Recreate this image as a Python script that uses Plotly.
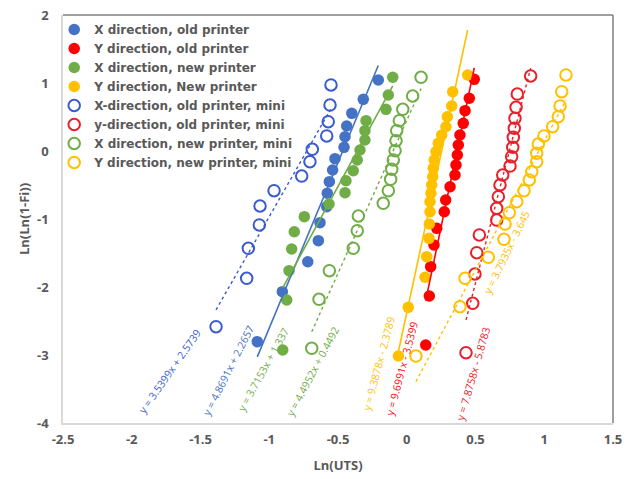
import plotly.graph_objects as go

# ---------------- data ----------------
x_old_x = [-0.207, -0.316, -0.400, -0.437, -0.449, -0.456, -0.522, -0.539, -0.563, -0.578, -0.582, -0.631, -0.643, -0.720, -0.905, -1.087]
y_old_x = [1.044, 0.760, 0.554, 0.368, 0.210, 0.054, -0.113, -0.279, -0.451, -0.622, -0.819, -1.054, -1.319, -1.628, -2.069, -2.804]

x_old_y = [0.491, 0.455, 0.424, 0.411, 0.387, 0.375, 0.368, 0.358, 0.351, 0.315, 0.283, 0.273, 0.218, 0.198, 0.174, 0.164, 0.138]
y_old_y = [1.054, 0.775, 0.593, 0.407, 0.235, 0.088, -0.059, -0.206, -0.353, -0.525, -0.721, -0.893, -1.137, -1.382, -1.701, -2.132, -2.853]

x_new_x = [-0.102, -0.134, -0.151, -0.296, -0.304, -0.304, -0.340, -0.360, -0.389, -0.442, -0.449, -0.565, -0.745, -0.818, -0.837, -0.856, -0.873, -0.902]
y_new_x = [1.084, 0.824, 0.613, 0.446, 0.299, 0.162, 0.015, -0.132, -0.290, -0.437, -0.613, -0.779, -0.966, -1.187, -1.441, -1.760, -2.191, -2.926]

x_new_y = [0.443, 0.334, 0.327, 0.295, 0.285, 0.254, 0.229, 0.213, 0.200, 0.193, 0.189, 0.181, 0.176, 0.169, 0.169, 0.164, 0.162, 0.145, 0.133, 0.011, -0.061]
y_new_y = [1.118, 0.872, 0.662, 0.504, 0.357, 0.235, 0.113, -0.010, -0.132, -0.254, -0.378, -0.500, -0.622, -0.746, -0.893, -1.074, -1.284, -1.554, -1.857, -2.299, -3.015]

x_old_x_mini = [-0.551, -0.558, -0.571, -0.582, -0.687, -0.704, -0.764, -0.965, -1.067, -1.072, -1.152, -1.164, -1.387]
y_old_x_mini = [0.971, 0.676, 0.431, 0.221, 0.025, -0.157, -0.368, -0.584, -0.809, -1.088, -1.431, -1.872, -2.584]

x_old_y_mini = [0.901, 0.804, 0.795, 0.787, 0.782, 0.775, 0.771, 0.763, 0.751, 0.698, 0.678, 0.666, 0.654, 0.654, 0.528, 0.509, 0.496, 0.480, 0.431]
y_old_y_mini = [1.103, 0.838, 0.643, 0.481, 0.334, 0.201, 0.054, -0.084, -0.221, -0.353, -0.500, -0.672, -0.843, -1.015, -1.235, -1.496, -1.809, -2.240, -2.966]

x_new_x_mini = [0.104, 0.043, -0.029, -0.054, -0.073, -0.078, -0.085, -0.098, -0.109, -0.117, -0.134, -0.171, -0.352, -0.360, -0.389, -0.563, -0.638, -0.691]
y_new_x_mini = [1.084, 0.809, 0.613, 0.446, 0.299, 0.151, 0.004, -0.132, -0.269, -0.416, -0.584, -0.769, -0.956, -1.172, -1.431, -1.760, -2.181, -2.901]

x_new_y_mini = [1.158, 1.127, 1.115, 1.102, 1.061, 0.998, 0.957, 0.945, 0.945, 0.909, 0.891, 0.853, 0.800, 0.746, 0.715, 0.707, 0.593, 0.424, 0.387, 0.067]
y_new_y_mini = [1.118, 0.872, 0.662, 0.504, 0.357, 0.221, 0.103, -0.034, -0.157, -0.304, -0.426, -0.584, -0.746, -0.907, -1.074, -1.299, -1.563, -1.872, -2.290, -3.015]

series_names = [
    "X direction, old printer",
    "Y direction, old printer",
    "X direction, new printer",
    "Y direction, New printer",
    "X-direction, old printer, mini",
    "y-direction, old printer, mini",
    "X direction, new printer, mini",
    "Y direction, new printer, mini",
]
series_x = [x_old_x, x_old_y, x_new_x, x_new_y, x_old_x_mini, x_old_y_mini, x_new_x_mini, x_new_y_mini]
series_y = [y_old_x, y_old_y, y_new_x, y_new_y, y_old_x_mini, y_old_y_mini, y_new_x_mini, y_new_y_mini]

# trendline coefficients (slope, intercept) shown on chart
trend_slope = [4.8691, 9.6991, 3.7153, 9.3878, 3.5399, 7.8758, 4.4952, 3.7935]
trend_intercept = [2.2657, -3.5399, 1.337, -2.3789, 2.5739, -5.8783, 0.4492, -3.645]
trend_labels = [
    "y = 4.8691x + 2.2657",
    "y = 9.6991x - 3.5399",
    "y = 3.7153x + 1.337",
    "y = 9.3878x - 2.3789",
    "y = 3.5399x + 2.5739",
    "y = 7.8758x - 5.8783",
    "y = 4.4952x + 0.4492",
    "y = 3.7935x - 3.645",
]
label_x = [-1.300, -0.035, -1.045, -0.202, -1.722, 0.482, -0.682, 0.727]
label_y = [-3.235, -3.191, -3.221, -3.118, -3.235, -3.279, -3.235, -1.481]
label_angle = [-63, -75, -61, -75, -55, -74, -62, -64]

x_ticks = [-2.5, -2, -1.5, -1, -0.5, 0, 0.5, 1, 1.5]
x_ticktext = ["-2.5", "-2", "-1.5", "-1", "-0.5", "0", "0.5", "1", "1.5"]
y_ticks = [-4, -3, -2, -1, 0, 1, 2]
y_ticktext = ["-4", "-3", "-2", "-1", "0", "1", "2"]

# ---------------- styles ----------------
colors = ["#4472C4", "#FF0000", "#70AD47", "#FFC000", "#3A5BD0", "#E8202A", "#70AD47", "#FFC000"]
filled = [True, True, True, True, False, False, False, False]

FONT = "Open Sans"
GRAY = "#595959"

fig = go.Figure()

for i in range(8):
    if filled[i]:
        marker = dict(symbol="circle", size=11.5, color=colors[i])
    else:
        marker = dict(symbol="circle-open", size=11.5, color=colors[i], line=dict(width=2, color=colors[i]))
    fig.add_trace(go.Scatter(x=series_x[i], y=series_y[i], mode="markers",
                             name=series_names[i], marker=marker))

for i in range(8):
    xs = series_x[i]
    x0, x1 = min(xs), max(xs)
    fig.add_trace(go.Scatter(
        x=[x0, x1],
        y=[trend_slope[i] * x0 + trend_intercept[i], trend_slope[i] * x1 + trend_intercept[i]],
        mode="lines", showlegend=False, hoverinfo="skip",
        line=dict(color=colors[i], width=1.6 if filled[i] else 1.4,
                  dash="solid" if filled[i] else "dot"),
    ))
    fig.add_annotation(x=label_x[i], y=label_y[i], xref="x", yref="y",
                       text=trend_labels[i], showarrow=False,
                       textangle=label_angle[i],
                       font=dict(family=FONT, size=10.5, color=colors[i]))

# plot-area border top/right (darker)
fig.add_shape(type="line", xref="paper", yref="paper", x0=0, x1=1, y0=1, y1=1,
              line=dict(color="#7f7f7f", width=1.5))
fig.add_shape(type="line", xref="paper", yref="paper", x0=1, x1=1, y0=0, y1=1,
              line=dict(color="#7f7f7f", width=1.5))

fig.update_layout(
    width=634, height=479,
    margin=dict(l=63, r=21, t=15, b=56, autoexpand=False),
    paper_bgcolor="white", plot_bgcolor="white",
    font=dict(family=FONT, color=GRAY),
    legend=dict(x=-0.016, y=1.0, xanchor="left", yanchor="top",
                bgcolor="rgba(0,0,0,0)", tracegroupgap=0, itemwidth=30,
                font=dict(family="DejaVu Sans", size=12, color=GRAY, weight="bold")),
    xaxis=dict(range=[-2.5, 1.5], tickvals=x_ticks, ticktext=x_ticktext,
               showgrid=False, zeroline=False, showline=True, linecolor="#D9D9D9", linewidth=1.5,
               ticks="", ticklabelstandoff=4,
               tickfont=dict(family=FONT, size=13, color=GRAY, weight="bold"),
               title=dict(text="Ln(UTS)", standoff=14,
                          font=dict(family=FONT, size=13, color=GRAY, weight="bold"))),
    yaxis=dict(range=[-4, 2], tickvals=y_ticks, ticktext=y_ticktext,
               showgrid=False, zeroline=False, showline=True, linecolor="#D9D9D9", linewidth=1.5,
               ticks="", ticklabelstandoff=10,
               tickfont=dict(family=FONT, size=13, color=GRAY, weight="bold"),
               title=dict(text="Ln(Ln(1-Fi))", standoff=4,
                          font=dict(family=FONT, size=13, color=GRAY, weight="bold"))),
)

fig.write_html("out.html", config={"displayModeBar": False},
               post_script="document.body.style.margin='0';document.body.style.overflow='hidden';")
